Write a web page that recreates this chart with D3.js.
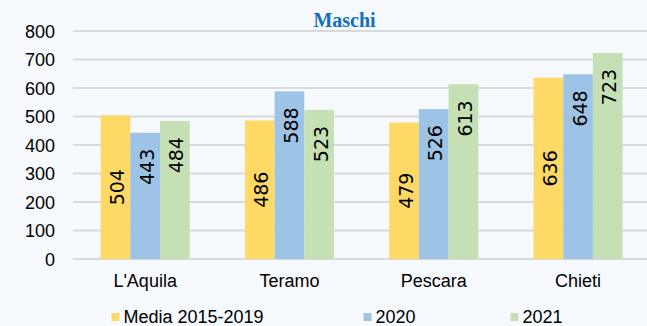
<!DOCTYPE html>
<html>
<head>
<meta charset="utf-8">
<script src="https://cdn.jsdelivr.net/npm/d3@7/dist/d3.min.js"></script>
<style>
  html, body { margin: 0; padding: 0; background: #F6F9FE; }
  svg { display: block; }
</style>
</head>
<body>
<script>
// Deaths (males) by province: five-year average vs 2020 and 2021
const categories = ["L'Aquila", "Teramo", "Pescara", "Chieti"];
const seriesNames = ["Media 2015-2019", "2020", "2021"];
const media = [504, 486, 479, 636];
const y2020 = [443, 588, 526, 648];
const y2021 = [484, 523, 613, 723];
const yTicks = [0, 100, 200, 300, 400, 500, 600, 700, 800];
const colors = ["#FFD966", "#9DC3E6", "#C5E0B4"];
// label placement per series: centred in the bar, or just inside its top
const labelPos = ["center", "end", "end"];

const W = 647, H = 326;
const values = [media, y2020, y2021];

const svg = d3.select("body").append("svg")
  .attr("width", W).attr("height", H);

svg.append("rect").attr("width", W).attr("height", H).attr("fill", "#F6F9FE");

const x = d3.scaleBand()
  .domain(categories)
  .range([73, 650.2])
  .paddingInner(0.383)
  .paddingOuter(0.1915);

const xs = d3.scaleBand()
  .domain(d3.range(seriesNames.length))
  .range([0, x.bandwidth()]);

const y = d3.scaleLinear().domain([0, 800]).range([259, 31]);

// gridlines
svg.append("g")
  .selectAll("line")
  .data(yTicks)
  .join("line")
  .attr("x1", 73).attr("x2", W)
  .attr("y1", d => y(d)).attr("y2", d => y(d))
  .attr("stroke", "#D9D9D9")
  .attr("stroke-width", 2);

// y axis labels
const yAxis = d3.axisLeft(y).tickValues(yTicks).tickSize(0).tickPadding(0);
const gy = svg.append("g").attr("transform", "translate(55,0)").call(yAxis);
gy.select(".domain").remove();
gy.selectAll("text")
  .attr("font-family", "'Liberation Sans', Arial, sans-serif")
  .attr("font-size", 18)
  .attr("fill", "#000")
  .attr("dy", "0.35em");

// x axis labels
const xAxis = d3.axisBottom(x).tickSize(0).tickPadding(0);
const gx = svg.append("g").attr("transform", "translate(0,274)").call(xAxis);
gx.select(".domain").remove();
gx.selectAll("text")
  .attr("font-family", "'Liberation Sans', Arial, sans-serif")
  .attr("font-size", 18)
  .attr("fill", "#000")
  .attr("dy", "0.71em");

// bars
const groups = svg.append("g")
  .selectAll("g")
  .data(categories)
  .join("g")
  .attr("transform", d => `translate(${x(d)},0)`);

groups.selectAll("rect")
  .data((c, i) => values.map((v, s) => ({ s, v: v[i] })))
  .join("rect")
  .attr("x", d => xs(d.s))
  .attr("width", xs.bandwidth())
  .attr("y", d => y(d.v))
  .attr("height", d => y(0) - y(d.v))
  .attr("fill", d => colors[d.s]);

// value labels, rotated
groups.selectAll("text")
  .data((c, i) => values.map((v, s) => ({ s, v: v[i] })))
  .join("text")
  .attr("transform", d => {
    const cx = xs(d.s) + xs.bandwidth() / 2 + 8.5;
    const cy = labelPos[d.s] === "center" ? (y(d.v) + y(0)) / 2 : y(d.v) + 16;
    return `translate(${cx},${cy}) rotate(-90)`;
  })
  .attr("text-anchor", d => labelPos[d.s] === "center" ? "middle" : "end")
  .attr("font-family", "'DejaVu Sans', sans-serif")
  .attr("font-size", 19)
  .attr("fill", "#000")
  .text(d => d.v);

// title
svg.append("text")
  .attr("x", 344.5).attr("y", 27)
  .attr("text-anchor", "middle")
  .attr("font-family", "'Liberation Serif', 'Times New Roman', serif")
  .attr("font-weight", "bold")
  .attr("font-size", 20)
  .attr("fill", "#1070C0")
  .text("Maschi");

// legend
const legendX = [111.5, 363.5, 510.5];
const legend = svg.append("g")
  .selectAll("g")
  .data(seriesNames)
  .join("g")
  .attr("transform", (d, i) => `translate(${legendX[i]},0)`);
legend.append("rect")
  .attr("x", 0).attr("y", 313)
  .attr("width", 8).attr("height", 8)
  .attr("fill", (d, i) => colors[i]);
legend.append("text")
  .attr("x", 12).attr("y", 322.5)
  .attr("font-family", "'Liberation Sans', Arial, sans-serif")
  .attr("font-size", 18)
  .attr("fill", "#000")
  .text(d => d);
</script>
</body>
</html>
